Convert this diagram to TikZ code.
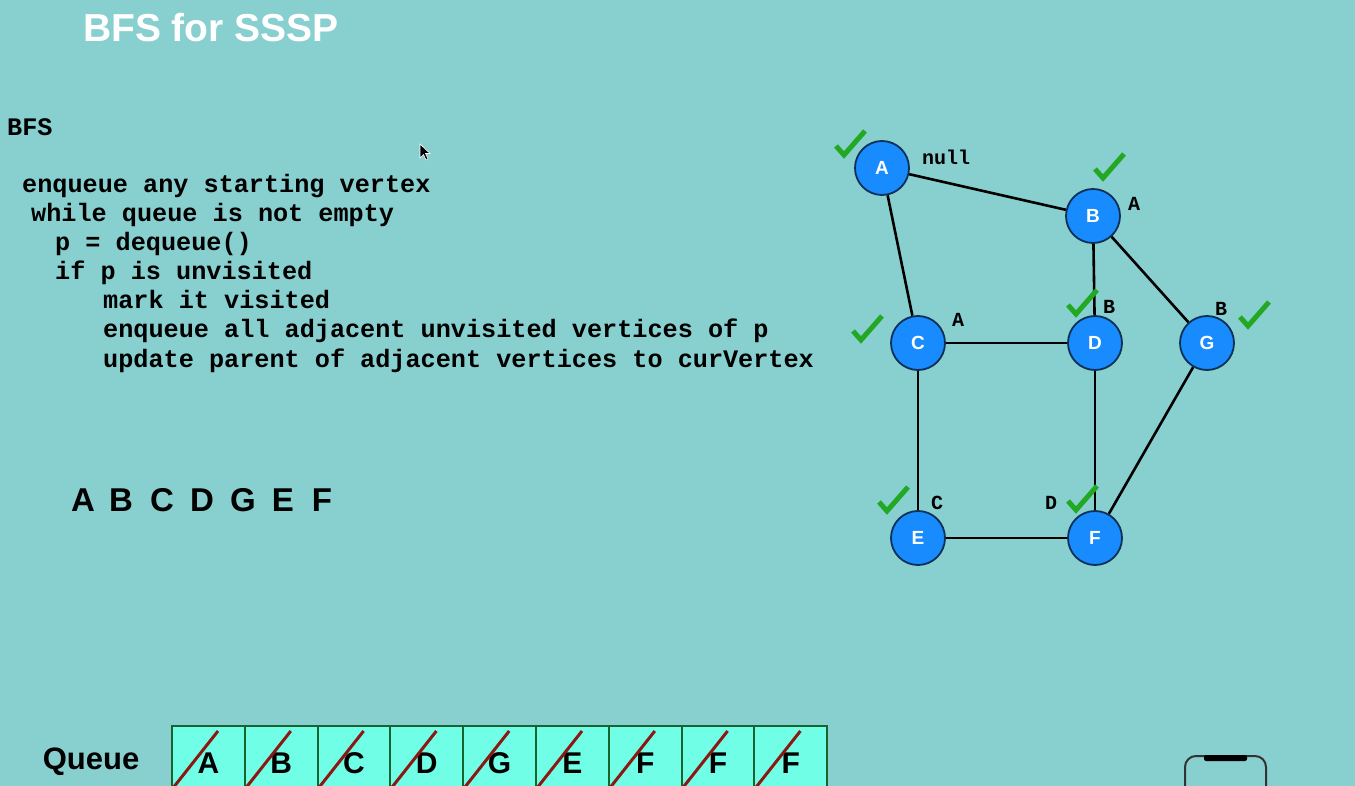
\documentclass[tikz,border=0pt]{standalone}
\usepackage{fontspec}
\setmainfont{Liberation Sans}
\newfontfamily\codefont{Liberation Mono}
\newcommand\fsz[1]{\fontsize{#1}{#1}\selectfont}
\definecolor{bgteal}{RGB}{136,207,207}
\definecolor{vblue}{RGB}{24,140,255}
\definecolor{vrim}{RGB}{12,48,86}
\definecolor{tickgreen}{RGB}{34,168,34}
\definecolor{cellfill}{RGB}{112,255,230}
\definecolor{cellrim}{RGB}{24,100,44}
\definecolor{strikered}{RGB}{140,24,20}
\begin{document}
\begin{tikzpicture}[x=1pt,y=-1pt,
  vert/.style={circle, fill=vblue, draw=vrim, line width=1.8pt, minimum size=54pt,
    inner sep=0pt, text=white, font=\bfseries\fsz{19}},
  edge/.style={line width=2.6pt, black},
  parlabel/.style={font=\codefont\bfseries\fsz{20}, inner sep=0pt},
  codeline/.style={font=\codefont\bfseries\fsz{25.2}, anchor=mid west, inner sep=0pt},
  order/.style={font=\bfseries\fsz{33}, inner sep=0pt},
  cell/.style={rectangle, fill=cellfill, draw=cellrim, line width=2pt,
    minimum width=72.8pt, minimum height=74pt, anchor=north west, inner sep=0pt,
    font=\bfseries\fsz{30}},
  strike/.style={strikered, line width=3pt},
  checkmark/.pic={\draw[tickgreen, line width=5pt] (-14,1) -- (-6,10) -- (15,-14);}
]
% canvas
\fill[bgteal] (0,0) rectangle (1355,786);
\useasboundingbox (0,0) rectangle (1355,786);
\clip (0,0) rectangle (1355,786);

% heading
\node[text=white, font=\bfseries\fsz{39}, inner sep=0pt] (title) at (211,28) {BFS for SSSP};

% pseudocode
\node[font=\codefont\bfseries\fsz{25.2}, anchor=west, inner sep=0pt] (bfs) at (7,127) {BFS};
\node[codeline] (c1) at (22,190) {enqueue any starting vertex};
\node[codeline] (c2) at (31,219) {while queue is not empty};
\node[codeline] (c3) at (55,248) {p = dequeue()};
\node[codeline] (c4) at (55,277) {if p is unvisited};
\node[codeline] (c5) at (103,306) {mark it visited};
\node[codeline] (c6) at (103,335) {enqueue all adjacent unvisited vertices of p};
\node[codeline] (c7) at (103,365) {update parent of adjacent vertices to curVertex};

% mouse pointer
\filldraw[fill=black, draw=white, line width=0.6pt]
  (420,144) -- (420,158) -- (423.5,154.5) -- (426,160) -- (428,159) -- (425.5,153.5) -- (430,153.5) -- cycle;

% visiting order
\foreach \L/\X in {A/83,B/121,C/162,D/202,G/243,E/283,F/322}
  \node[order] (o\L) at (\X,500) {\L};

% graph
\node[vert] (A) at (882,168) {A};
\node[vert] (B) at (1093,216) {B};
\node[vert] (C) at (918,343) {C};
\node[vert] (D) at (1095,343) {D};
\node[vert] (G) at (1207,343) {G};
\node[vert] (E) at (918,538) {E};
\node[vert] (F) at (1095,538) {F};
\draw[edge] (A) -- (B);
\draw[edge] (A) -- (C);
\draw[edge] (B) -- (D);
\draw[edge] (B) -- (G);
\draw[edge] (C) -- (D);
\draw[edge] (C) -- (E);
\draw[edge] (D) -- (F);
\draw[edge] (G) -- (F);
\draw[edge] (E) -- (F);

% parent labels
\node[parlabel] (pA) at (946,157) {null};
\node[parlabel] (pB) at (1134,204) {A};
\node[parlabel] (pC) at (958,320) {A};
\node[parlabel] (pD) at (1109,307) {B};
\node[parlabel] (pG) at (1221,309) {B};
\node[parlabel] (pE) at (937,503) {C};
\node[parlabel] (pF) at (1051,503) {D};

% visited marks
\pic at (850,145) {checkmark};
\pic at (1109,168) {checkmark};
\pic at (867,330) {checkmark};
\pic at (1082,304) {checkmark};
\pic at (1254,316) {checkmark};
\pic at (893,501) {checkmark};
\pic at (1082,500) {checkmark};

% queue
\node[font=\bfseries\fsz{31}, inner sep=0pt] (qlabel) at (91,762) {Queue};
\foreach \L [count=\i] in {A,B,C,D,G,E,F,F,F} {
  \node[cell] (q\i) at ({171+72.8*(\i-1)},725) {\L};
  \draw[strike] ({171+72.8*(\i-1)+2},788) -- ({171+72.8*(\i-1)+47},731);
}

% phone outline
\draw[black!80, line width=2pt, rounded corners=11pt] (1185,800) -- (1185,756) -- (1266,756) -- (1266,800);
\fill[black, rounded corners=2pt] (1204,755) rectangle (1247,761);
\end{tikzpicture}
\end{document}
